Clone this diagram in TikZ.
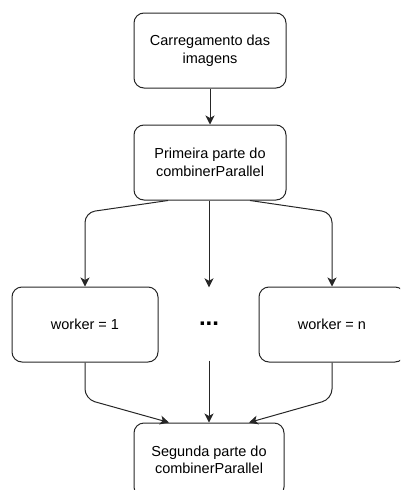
\documentclass[tikz,border=0pt]{standalone}
\usepackage{fontspec}
\setmainfont{Liberation Sans}
\usetikzlibrary{arrows.meta}
\begin{document}
\begin{tikzpicture}[x=1pt,y=-1pt,
  box/.style={draw=black!85, line width=1pt, rounded corners=10pt,
    minimum width=152pt, minimum height=75pt, align=center, inner sep=0pt,
    font=\fontsize{14.5}{17.5}\selectfont},
  wbox/.style={box, minimum width=146pt},
  link/.style={line width=1pt, draw=black!85,
    -{Stealth[length=9pt,width=9pt,inset=2.5pt]}, rounded corners=10pt}]
\clip (0,0) rectangle (400,490);
\useasboundingbox (0,0) rectangle (400,490);

\node[box] (load) at (210,50.5) {Carregamento das\\imagens};
\node[box] (first) at (210,162.5) {Primeira parte do\\combinerParallel};
\node[wbox] (w1) at (85,324.5) {worker = 1};
\node[wbox] (wn) at (332,324.5) {worker = n};
\node[minimum height=73pt, inner sep=0pt, font=\fontsize{24}{24}\selectfont\bfseries]
  (dots) at (209,324) {...};
\node[wbox, minimum width=150pt, minimum height=74pt] (second) at (209,460) {Segunda parte do\\combinerParallel};

% feed from the loader into the first stage
\draw[link] (load) -- (first);

% fan-out to the workers
\draw[link] ([xshift=-42pt]first.south) -- (85,212.5) -- (w1.north);
\draw[link] (first.south -| dots.north) -- (dots.north);
\draw[link] ([xshift=40pt]first.south) -- (332,212.5) -- (wn.north);

% fan-in to the second stage
\draw[link] (w1.south) -- (85,399) -- ([xshift=-40pt]second.north);
\draw[link] (dots.south) -- (second.north -| dots.south);
\draw[link] (wn.south) -- (332,399) -- ([xshift=40pt]second.north);
\end{tikzpicture}
\end{document}
